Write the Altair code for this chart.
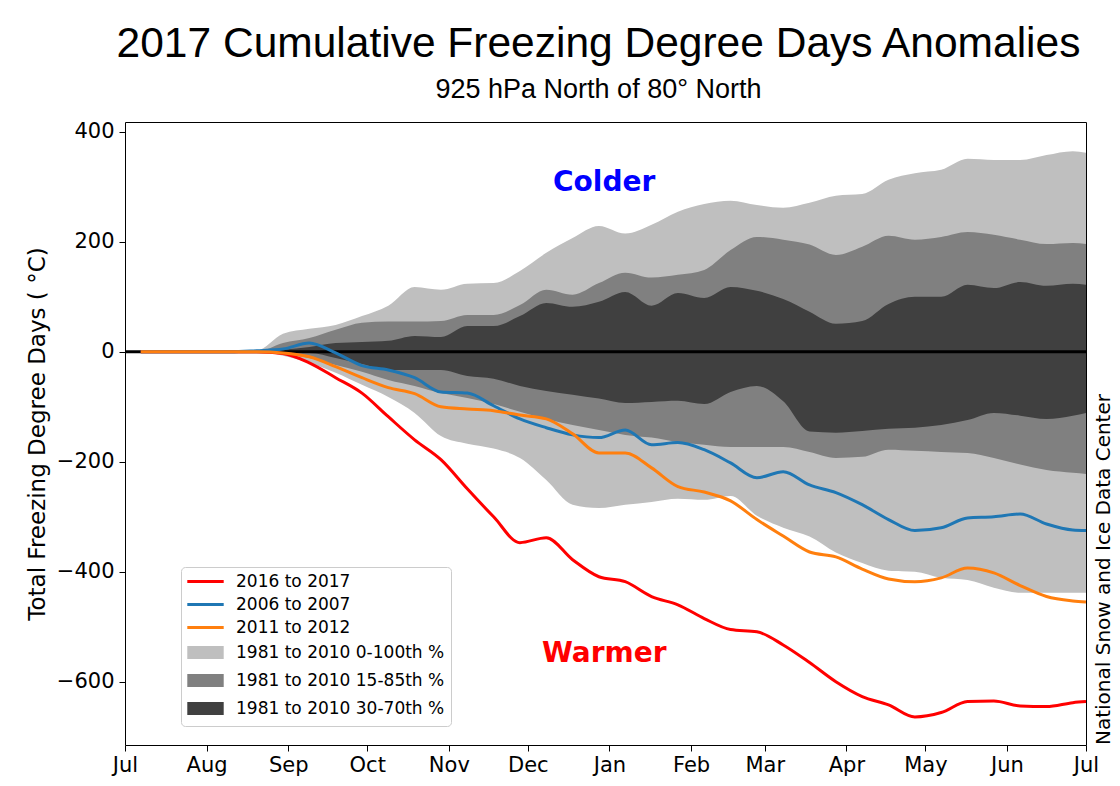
import altair as alt
import pandas as pd

# ---- data ----
days = [6, 10, 20, 30, 40, 50, 60, 70, 80, 90, 100, 110, 120, 130, 140, 150, 160, 170, 180,
        190, 200, 210, 220, 230, 240, 250, 260, 270, 280, 290, 300, 310, 320, 330, 340, 350, 360, 365]

z6 = [0, 0, 0, 0, 0, 0]
light_hi = [0, 0, 0, 0, 0, 2] + [33, 42, 49, 65, 84, 118, 113, 124, 125, 147, 180, 207, 229, 215, 231, 255,
                                  269, 275, 267, 262, 271, 284, 287, 313, 325, 331, 351, 349, 349, 358, 365, 362]
mid_hi = z6 + [16, 25, 40, 53, 55, 55, 56, 67, 67, 85, 113, 104, 125, 144, 135, 140,
               149, 185, 209, 204, 195, 176, 191, 211, 204, 209, 218, 213, 204, 196, 198, 196]
dark_hi = z6 + [4, 9, 16, 18, 20, 29, 27, 47, 47, 65, 89, 82, 91, 109, 84, 107,
                98, 118, 111, 96, 73, 51, 56, 87, 100, 100, 122, 116, 127, 120, 124, 122]
dark_lo = z6 + [-2, -2, -11, -22, -33, -33, -33, -44, -49, -62, -71, -78, -85, -93, -91, -89,
                -95, -73, -62, -90, -145, -147, -144, -140, -138, -133, -124, -111, -116, -122, -116, -111]
mid_lo = z6 + [-5, -11, -24, -36, -51, -62, -75, -84, -95, -109, -122, -133, -142, -151, -156, -164,
               -169, -173, -173, -173, -182, -193, -191, -178, -180, -182, -184, -193, -205, -215, -220, -222]
light_lo = z6 + [-7, -20, -38, -60, -82, -111, -153, -167, -176, -193, -233, -278, -284, -278, -273, -267,
                 -269, -262, -298, -320, -336, -365, -384, -398, -400, -411, -415, -429, -438, -438, -438, -438]

red_2016 = z6 + [-3, -20, -47, -75, -118, -160, -196, -249, -300, -347, -338, -378, -409, -418, -445, -460,
                 -485, -505, -509, -533, -565, -600, -627, -642, -664, -656, -636, -635, -644, -645, -638, -636]
blue_2006 = [0, 0, 0, 0, 0, 2] + [5, 16, -2, -25, -33, -47, -73, -75, -98, -122, -138, -151, -156, -142, -169, -165,
                                   -178, -202, -229, -218, -242, -256, -278, -305, -325, -320, -302, -300, -295, -313, -324, -325]
orange_2011 = z6 + [-2, -9, -27, -47, -65, -76, -100, -104, -107, -115, -122, -149, -184, -184, -211, -245,
                    -255, -271, -305, -335, -364, -373, -395, -413, -418, -411, -393, -402, -425, -445, -453, -455]

month_days = [0, 31, 62, 92, 123, 153, 184, 215, 243, 274, 304, 335, 365]
month_names = ["Jul", "Aug", "Sep", "Oct", "Nov", "Dec", "Jan", "Feb", "Mar", "Apr", "May", "Jun", "Jul"]
y_ticks = [-600, -400, -200, 0, 200, 400]

series_names = ["2016 to 2017", "2006 to 2007", "2011 to 2012"]
series_colors = ["#ff0000", "#1f77b4", "#ff7f0e"]
band_names = ["1981 to 2010 0-100th %", "1981 to 2010 15-85th %", "1981 to 2010 30-70th %"]
band_colors = ["#bfbfbf", "#808080", "#404040"]

notes = ["Colder", "Warmer"]
note_day = [182, 182]
note_val = [307, -549]
note_colors = ["#0000ff", "#ff0000"]

W, H = 961, 623
FONT = "DejaVu Sans"

bands = pd.DataFrame({"day": days, "light_lo": light_lo, "light_hi": light_hi,
                      "mid_lo": mid_lo, "mid_hi": mid_hi, "dark_lo": dark_lo, "dark_hi": dark_hi})
lines = pd.DataFrame({"day": days, series_names[0]: red_2016,
                      series_names[1]: blue_2006, series_names[2]: orange_2011})

x_scale = alt.Scale(domain=[0, 365], nice=False, zero=False, padding=0)
y_scale = alt.Scale(domain=[-715, 418], nice=False, zero=False)

label_expr = "[" + ",".join(f"'{m}'" for m in month_names) + "][indexof([" + \
    ",".join(str(d) for d in month_days) + "], datum.value)]"

x_axis = alt.Axis(values=month_days, labelExpr=label_expr, title=None, grid=False, domain=False,
                  tickSize=6, tickColor="black", labelColor="black", labelFont=FONT,
                  labelFontSize=21, labelPadding=3, labelFlush=False, labelOverlap=False)
y_axis = alt.Axis(values=y_ticks, title="Total Freezing Degree Days ( °C)", grid=False, domain=False,
                  tickSize=6, tickColor="black", labelColor="black", labelFont=FONT,
                  labelFontSize=21, labelPadding=5, format="d",
                  titleFont=FONT, titleFontSize=23, titleFontWeight="normal", titleColor="black",
                  titleX=-88, titleY=H / 2, titleAngle=270, titleAlign="center", titleBaseline="middle")

X = alt.X("day:Q", scale=x_scale, axis=x_axis)

def band(lo, hi, color):
    return alt.Chart(bands).mark_area(color=color, opacity=1, interpolate="monotone").encode(
        x=X, y=alt.Y(f"{lo}:Q", scale=y_scale, axis=y_axis), y2=f"{hi}:Q")

layers = [band("light_lo", "light_hi", band_colors[0]),
          band("mid_lo", "mid_hi", band_colors[1]),
          band("dark_lo", "dark_hi", band_colors[2])]

zero = alt.Chart(pd.DataFrame({"v": [0]})).mark_rule(color="black", strokeWidth=3).encode(
    y=alt.Y("v:Q", scale=y_scale, axis=y_axis))
layers.append(zero)

for name, col in zip(series_names, series_colors):
    layers.append(alt.Chart(lines).mark_line(color=col, strokeWidth=3, interpolate="monotone").encode(
        x=X, y=alt.Y(f"{name}:Q", scale=y_scale, axis=y_axis)))

notes_df = pd.DataFrame({"text": notes, "day": note_day, "val": note_val, "color": note_colors})
for i in range(2):
    layers.append(alt.Chart(notes_df.iloc[[i]]).mark_text(
        font=FONT, fontSize=28, fontWeight="bold", color=note_colors[i], align="center", baseline="middle"
    ).encode(x=X, y=alt.Y("val:Q", scale=y_scale, axis=y_axis), text="text:N"))

credit = alt.Chart(pd.DataFrame({"t": ["National Snow and Ice Data Center"]})).mark_text(
    font=FONT, fontSize=20, color="black", angle=270, align="left", baseline="middle"
).encode(x=alt.value(W + 18), y=alt.value(H), text="t:N")
layers.append(credit)

# legend carrier
legend_labels = series_names + band_names
legend_colors = series_colors + band_colors
line_sym = "M-2.8,0H2.8"
rect_sym = "M-2.57,-0.77H2.57V0.77H-2.57Z"
legend_shapes = [line_sym] * 3 + [rect_sym] * 3
leg = alt.Legend(orient="none", legendX=56, legendY=445, title=None, fillColor="white",
                 strokeColor="#cccccc", cornerRadius=4, padding=6, labelFont=FONT, labelFontSize=17,
                 labelColor="black", labelLimit=0, symbolSize=169, symbolStrokeWidth=3, symbolOffset=10,
                 labelOffset=22, rowPadding=5, symbolOpacity=1)
ldf = pd.DataFrame({"label": legend_labels})
legend_layer = alt.Chart(ldf).transform_filter("false").mark_point(filled=True, opacity=1).encode(
    fill=alt.Fill("label:N", scale=alt.Scale(domain=legend_labels, range=legend_colors), legend=leg),
    stroke=alt.Stroke("label:N", scale=alt.Scale(domain=legend_labels, range=legend_colors), legend=leg),
    shape=alt.Shape("label:N", scale=alt.Scale(domain=legend_labels, range=legend_shapes), legend=leg),
)
layers.append(legend_layer)

chart = alt.layer(*layers).properties(
    width=W, height=H,
    title=alt.Title(text="2017 Cumulative Freezing Degree Days Anomalies",
                    subtitle="925 hPa North of 80° North",
                    font="Liberation Sans", fontSize=42.5, fontWeight="normal", color="black",
                    subtitleFont="Liberation Sans", subtitleFontSize=27, subtitleColor="black",
                    anchor="middle", offset=18, subtitlePadding=11, dx=-7),
    autosize=alt.AutoSizeParams(type="none"),
    padding={"left": 125, "top": 122, "right": 34, "bottom": 41},
    background="white",
).configure_view(stroke="black", strokeWidth=1)

chart.save("out.html", embed_options={"renderer": "svg", "actions": False})
